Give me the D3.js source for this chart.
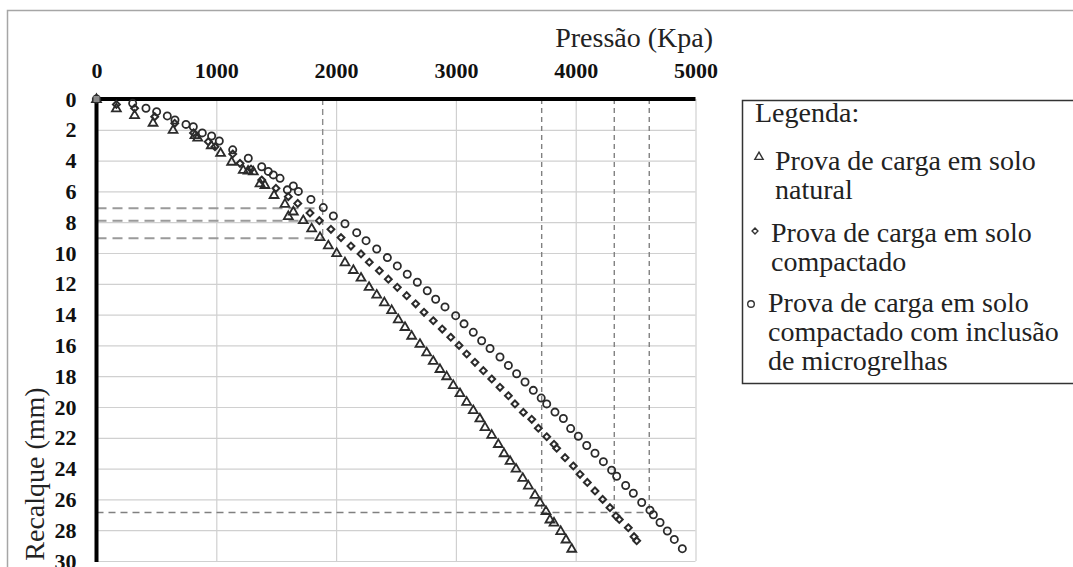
<!DOCTYPE html>
<html>
<head>
<meta charset="utf-8">
<script src="https://cdn.jsdelivr.net/npm/d3@7"></script>
<style>
html,body{margin:0;padding:0;background:#fff;}
svg{display:block;}
</style>
</head>
<body>
<svg id="chart" width="1073" height="567"></svg>
<script>
// ---- data ----
const pressureTicks = [0, 1000, 2000, 3000, 4000, 5000];
const settlementTicks = [0, 2, 4, 6, 8, 10, 12, 14, 16, 18, 20, 22, 24, 26, 28, 30];
const xTitle = "Pressão (Kpa)";
const yTitle = "Recalque (mm)";
const legendTitle = "Legenda:";
const seriesNames = [
  ["Prova de carga em solo", "natural"],
  ["Prova de carga em solo", "compactado"],
  ["Prova de carga em solo", "compactado com inclusão", "de microgrelhas"]
];

// [pressure kPa, settlement mm]
const natural = [
  [0,0],[166,0.6],[318,1.04],[472,1.54],[639,2.0],[822,2.34],[845,2.5],[958,3.0],[1036,3.5],
  [1128,4.07],[1225,4.6],[1265,4.65],[1309,4.7],[1365,5.47],[1406,5.58],[1482,6.23],[1573,6.8],
  [1643,7.3],[1601,7.6],[1726,7.86],[1796,8.4],[1866,8.96],[1935,9.5],[2005,10.0],[2074,10.6],
  [2144,11.1],[2208,11.6],[2275,12.2],[2339,12.7],[2403,13.2],[2464,13.7],[2519,14.3],[2575,14.8],
  [2631,15.37],[2700,15.9],[2756,16.45],[2811,17.0],[2867,17.53],[2923,18.0],[2978,18.57],
  [3034,19.1],[3090,19.66],[3145,20.2],[3200,20.74],[3243,21.3],[3299,21.8],[3354,22.4],
  [3402,23.0],[3452,23.5],[3502,24.0],[3558,24.6],[3605,25.1],[3660,25.7],[3702,26.2],
  [3752,26.75],[3785,27.3],[3819,27.5],[3875,28.05],[3919,28.6],[3967,29.2]
];
const compacted = [
  [0,0],[166,0.35],[318,0.6],[486,1.15],[653,1.58],[810,2.2],[933,2.77],[989,3.1],[1137,3.57],
  [1198,4.18],[1290,4.55],[1379,5.26],[1498,5.8],[1601,6.34],[1680,6.78],[1782,7.4],[1860,7.9],
  [1957,8.46],[2041,9.0],[2124,9.55],[2208,10.06],[2277,10.6],[2361,11.15],[2436,11.7],
  [2511,12.23],[2589,12.77],[2664,13.3],[2734,13.85],[2811,14.4],[2886,14.94],[2957,15.47],
  [3026,16.0],[3090,16.56],[3159,17.1],[3229,17.64],[3299,18.18],[3368,18.72],[3438,19.27],
  [3493,19.8],[3563,20.35],[3633,20.8],[3688,21.38],[3758,21.93],[3819,22.42],[3841,22.68],
  [3911,23.29],[3980,23.83],[4036,24.37],[4097,24.9],[4161,25.45],[4225,26.0],[4286,26.54],
  [4336,27.08],[4364,27.3],[4439,27.84],[4487,28.42],[4509,28.68]
];
const reinforced = [
  [0,0],[302,0.28],[413,0.6],[502,0.82],[591,1.1],[655,1.36],[747,1.65],[808,1.8],[883,2.2],
  [961,2.4],[1025,2.73],[1137,3.3],[1267,3.85],[1379,4.4],[1434,4.7],[1476,4.93],[1532,5.15],
  [1593,5.9],[1643,5.65],[1685,6.0],[1790,6.52],[1893,7.05],[1977,7.6],[2074,8.1],[2172,8.68],
  [2250,9.2],[2339,9.74],[2428,10.3],[2511,10.84],[2594,11.38],[2678,11.9],[2761,12.45],
  [2831,13.0],[2909,13.5],[2998,14.07],[3068,14.6],[3145,15.15],[3215,15.7],[3285,16.2],
  [3368,16.75],[3438,17.3],[3507,17.84],[3577,18.38],[3646,18.92],[3712,19.42],[3758,19.8],
  [3827,20.33],[3897,20.75],[3958,21.4],[4022,21.9],[4092,22.5],[4161,23.0],[4231,23.55],
  [4300,24.1],[4342,24.5],[4417,25.1],[4481,25.6],[4551,26.2],[4620,26.7],[4648,27.0],
  [4704,27.5],[4765,28.05],[4823,28.6],[4890,29.2]
];
// reference dashed lines
const refPressureLow = 1888;
const refSettlementsLow = [7.1, 7.9, 9.05];
const refPressuresHigh = [3716, 4322, 4614];
const refSettlementHigh = 26.85;

// ---- drawing ----
const svg = d3.select("#chart");
const x = d3.scaleLinear().domain([0, 5000]).range([96.5, 695.5]);
const y = d3.scaleLinear().domain([0, 30]).range([99, 561]);
const serif = "Liberation Serif";

// outer frame
svg.append("rect").attr("x", 7.5).attr("y", 10.5).attr("width", 1100).attr("height", 600)
  .attr("fill", "#fff").attr("stroke", "#a6a6a6").attr("stroke-width", 1.5);

// grid
const gx = svg.append("g").attr("transform", `translate(0,${y(30)})`)
  .call(d3.axisBottom(x).tickValues(pressureTicks).tickSize(-(y(30) - y(0))).tickFormat(""));
gx.select(".domain").remove();
gx.selectAll("line").attr("stroke", "#d0d0d0").attr("stroke-width", 1.2);
const gy = svg.append("g").attr("transform", `translate(${x(5000)},0)`)
  .call(d3.axisLeft(y).tickValues(settlementTicks).tickSize(x(5000) - x(0)).tickFormat(""));
gy.select(".domain").remove();
gy.selectAll("line").attr("stroke", "#d0d0d0").attr("stroke-width", 1.2);

// dashed reference lines
const dashG = svg.append("g").attr("fill", "none");
dashG.append("line").attr("x1", x(refPressureLow)).attr("x2", x(refPressureLow))
  .attr("y1", y(0)).attr("y2", y(d3.max(refSettlementsLow)))
  .attr("stroke", "#8c8c8c").attr("stroke-width", 1.4).attr("stroke-dasharray", "6,4");
refSettlementsLow.forEach(s => {
  dashG.append("line").attr("x1", x(0)).attr("x2", x(refPressureLow))
    .attr("y1", y(s)).attr("y2", y(s))
    .attr("stroke", "#9a9a9a").attr("stroke-width", 2).attr("stroke-dasharray", "10,6");
});
refPressuresHigh.forEach(p => {
  dashG.append("line").attr("x1", x(p)).attr("x2", x(p))
    .attr("y1", y(0)).attr("y2", y(refSettlementHigh))
    .attr("stroke", "#808080").attr("stroke-width", 1.4).attr("stroke-dasharray", "5,4");
});
dashG.append("line").attr("x1", x(0)).attr("x2", x(d3.max(refPressuresHigh)))
  .attr("y1", y(refSettlementHigh)).attr("y2", y(refSettlementHigh))
  .attr("stroke", "#808080").attr("stroke-width", 1.4).attr("stroke-dasharray", "7,5");

// axes
const axTop = svg.append("g").attr("transform", `translate(0,${y(0)})`)
  .call(d3.axisTop(x).tickValues(pressureTicks).tickSize(0).tickPadding(21).tickFormat(d3.format("d")));
axTop.select(".domain").remove();
axTop.selectAll("text").attr("font-family", serif).attr("font-weight", "bold")
  .attr("font-size", 22).attr("fill", "#111");
const axLeft = svg.append("g").attr("transform", `translate(${x(0)},0)`)
  .call(d3.axisLeft(y).tickValues(settlementTicks).tickSize(0).tickPadding(20).tickFormat(d3.format("d")));
axLeft.select(".domain").remove();
axLeft.selectAll("text").attr("font-family", serif).attr("font-weight", "bold")
  .attr("font-size", 22).attr("fill", "#111");

svg.append("line").attr("x1", x(0) - 2).attr("x2", x(5000)).attr("y1", y(0)).attr("y2", y(0))
  .attr("stroke", "#000").attr("stroke-width", 4);
svg.append("line").attr("x1", x(0)).attr("x2", x(0)).attr("y1", y(0) - 2).attr("y2", y(30) + 1)
  .attr("stroke", "#000").attr("stroke-width", 4);

// titles
svg.append("text").attr("x", 713).attr("y", 47).attr("text-anchor", "end")
  .attr("font-family", serif).attr("font-size", 28).attr("fill", "#222").text(xTitle);
svg.append("text").attr("transform", "translate(44,474) rotate(-90)").attr("text-anchor", "middle")
  .attr("font-family", serif).attr("font-size", 28).attr("fill", "#222").text(yTitle);

// markers
const mk = svg.append("g").attr("fill", "none").attr("stroke", "#2b2b2b").attr("stroke-width", 1.8);
const triSym = d3.symbol(d3.symbolTriangle, 34);
const diaSym = d3.symbol(d3.symbolDiamond2, 30);
mk.selectAll(".tri").data(natural).join("path").attr("class", "tri")
  .attr("d", triSym).attr("transform", d => `translate(${x(d[0])},${y(d[1]) + 0.5})`);
mk.selectAll(".dia").data(compacted).join("path").attr("class", "dia")
  .attr("d", diaSym).attr("stroke-width", 2).attr("transform", d => `translate(${x(d[0])},${y(d[1])})`);
mk.selectAll(".cir").data(reinforced).join("circle").attr("class", "cir")
  .attr("cx", d => x(d[0])).attr("cy", d => y(d[1])).attr("r", 3.6);
// origin marker (grey square as in the source)
svg.append("rect").attr("x", x(0) - 3).attr("y", y(0) - 3).attr("width", 6).attr("height", 6)
  .attr("fill", "#8a8a8a");

// legend
const lg = svg.append("g");
lg.append("rect").attr("x", 742.5).attr("y", 100.5).attr("width", 400).attr("height", 283)
  .attr("fill", "#fff").attr("stroke", "#333").attr("stroke-width", 1.5);
lg.append("text").attr("x", 755).attr("y", 122).attr("font-family", serif).attr("font-size", 28)
  .attr("fill", "#222").text(legendTitle);
const itemBaselines = [170, 242, 312];
const markerX = [759, 755, 751];
const textX = [775, 771, 768];
seriesNames.forEach((lines, i) => {
  const t = lg.append("text").attr("font-family", serif).attr("font-size", 28).attr("fill", "#222");
  lines.forEach((ln, j) => {
    t.append("tspan").attr("x", textX[i]).attr("y", itemBaselines[i] + j * 29).text(ln);
  });
});
const lm = lg.append("g").attr("fill", "none").attr("stroke", "#333").attr("stroke-width", 1.4);
lm.append("path").attr("d", d3.symbol(d3.symbolTriangle, 30)()).attr("transform", `translate(${markerX[0]},157)`);
lm.append("path").attr("d", d3.symbol(d3.symbolDiamond2, 22)()).attr("transform", `translate(${markerX[1]},231)`);
lm.append("circle").attr("cx", markerX[2]).attr("cy", 304).attr("r", 3.3);
</script>
</body>
</html>
